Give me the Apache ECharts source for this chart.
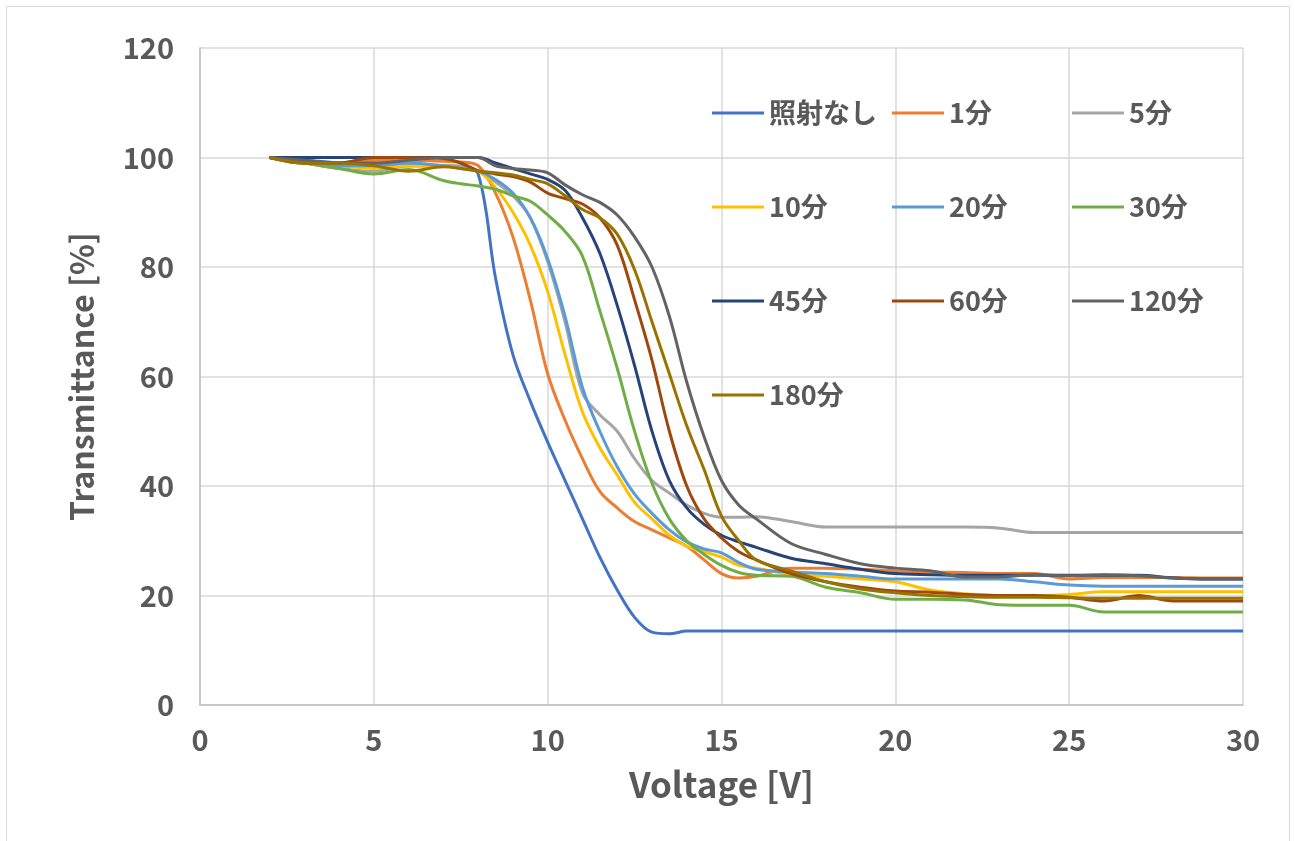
<!DOCTYPE html>
<html>
<head>
<meta charset="utf-8">
<script src="https://cdn.jsdelivr.net/npm/echarts@6/dist/echarts.min.js"></script>
<style>
  html, body { margin: 0; padding: 0; background: #fff; }
  #chart { width: 1295px; height: 841px; }
</style>
</head>
<body>
<div id="chart"></div>
<script>
// Applied voltage [V] shared by every measurement
const voltage = [2, 3, 4, 5, 6, 7, 7.5, 8, 8.5, 9, 9.5, 10, 10.5, 11, 11.5, 12, 12.5, 13, 13.5, 14, 14.5, 15, 15.5, 16,
  17, 18, 19, 20, 21, 22, 23, 24, 25, 26, 27, 28, 29, 30];

// Transmittance [%] per irradiation time
const t_none = [100, 99.5, 99, 98.5, 98.5, 98.5, 98.3, 97, 78, 64, 55.5, 48, 41, 34, 27, 21, 16, 13.3, 13, 13.5, 13.5, 13.5, 13.5, 13.5,
  13.5, 13.5, 13.5, 13.5, 13.5, 13.5, 13.5, 13.5, 13.5, 13.5, 13.5, 13.5, 13.5, 13.5];
const t_1 = [100, 99, 99, 99.5, 99.5, 99.3, 99.2, 98.5, 93.5, 85.5, 74, 60.5, 52, 45, 39, 36, 33.5, 32, 30.5, 29, 26.5, 24, 23.2, 23.5,
  25, 25, 24.8, 24.5, 24.3, 24.2, 24, 24, 23, 23.3, 23.3, 23.3, 23.2, 23.2];
const t_5 = [100, 99, 98, 97.5, 98.5, 98.5, 98.5, 97.5, 95.5, 93, 89, 81, 70, 57, 53, 50, 45, 41, 38.7, 36.5, 35, 34.3, 34.3, 34.4,
  33.5, 32.5, 32.5, 32.5, 32.5, 32.5, 32.3, 31.5, 31.5, 31.5, 31.5, 31.5, 31.5, 31.5];
const t_10 = [100, 99, 98.5, 98, 98.5, 98.5, 98, 97.5, 94.5, 90, 84, 75.5, 64, 53.5, 47, 42, 37, 34, 31, 29, 28, 27, 25.5, 25,
  23.8, 23.5, 23, 22.5, 21, 20.3, 20, 19.9, 20.2, 20.7, 20.7, 20.7, 20.7, 20.7];
const t_20 = [100, 99, 98.5, 98.5, 99, 98.5, 98, 97.5, 96, 93.5, 89, 81.5, 71, 58, 50, 43.5, 38.5, 35, 32, 29.8, 28.5, 27.8, 26, 24.8,
  24.3, 24, 23.5, 23, 23, 23, 23, 22.5, 21.9, 21.7, 21.7, 21.7, 21.7, 21.7];
const t_30 = [100, 99, 98, 97, 97.8, 95.8, 95.2, 94.8, 94.2, 93, 92, 89.5, 86.5, 82, 72, 61.5, 50, 40.5, 34, 30, 27.5, 25.5, 24.2, 23.7,
  23.5, 21.5, 20.5, 19.3, 19.3, 19.2, 18.3, 18.2, 18.2, 17, 17, 17, 17, 17];
const t_45 = [100, 100, 100, 100, 100, 100, 100, 100, 99, 98, 97, 96, 94, 89, 82.5, 73, 62, 50, 41, 36, 33, 31, 29.8, 28.8,
  26.8, 25.8, 24.8, 24, 23.8, 23.7, 23.7, 23.7, 23.7, 23.7, 23.7, 23.2, 23, 23];
const t_60 = [100, 99, 99, 100, 100, 99.8, 99, 97.6, 97, 96.5, 95.5, 93.5, 92.5, 91.5, 89, 84, 74, 63, 50, 40, 34, 30.5, 28, 26.5,
  24, 22.5, 21.5, 20.8, 20.6, 20.2, 20, 20, 19.7, 19, 20, 19, 19, 19];
const t_120 = [100, 99.5, 99, 99, 99.5, 100, 100, 100, 98.5, 98, 97.7, 97.2, 95, 93.2, 91.8, 89.5, 85.5, 80, 71, 59, 49, 41, 36.5, 34,
  29.5, 27.5, 25.8, 25, 24.5, 23.4, 23.4, 23.8, 23.6, 23.8, 23.6, 23.2, 23, 23];
const t_180 = [100, 99, 99, 98.5, 97.5, 98.3, 98, 97.5, 97.2, 96.8, 96, 95.2, 93, 90.5, 89, 86, 79.5, 70, 60.5, 51, 43, 34.5, 30, 26.5,
  24.5, 22.5, 21.2, 20.5, 20, 19.8, 19.7, 19.7, 19.6, 19.5, 19.5, 19.5, 19.5, 19.5];

const seriesNames = ['照射なし', '1分', '5分', '10分', '20分', '30分', '45分', '60分', '120分', '180分'];
const seriesValues = [t_none, t_1, t_5, t_10, t_20, t_30, t_45, t_60, t_120, t_180];
const seriesColors = ['#4472C4', '#ED7D31', '#A5A5A5', '#FFC000', '#5B9BD5', '#70AD47', '#264478', '#9E480E', '#636363', '#997300'];

// Legend columns (three columns, filled row by row)
const legendColumns = [
  ['照射なし', '10分', '45分', '180分'],
  ['1分', '20分', '60分'],
  ['5分', '30分', '120分']
];
const legendLeft = [712, 892, 1072];

const textColor = '#595959';
const jpFont = "'Noto Sans CJK JP', 'Noto Sans', sans-serif";

const chart = echarts.init(document.getElementById('chart'), null, { renderer: 'canvas' });

const series = seriesNames.map((name, i) => ({
  name: name,
  type: 'line',
  smooth: 0.35,
  symbol: 'none',
  data: voltage.map((v, k) => [v, seriesValues[i][k]]),
  lineStyle: { width: 3, color: seriesColors[i] },
  itemStyle: { color: seriesColors[i] },
  z: 2 + i
}));

// Plain line swatch for each legend entry
const lineIcon = 'path://M0,0 L52,0 L52,3 L0,3 Z';

const legends = legendColumns.map((col, c) => ({
  data: col,
  orient: 'vertical',
  left: legendLeft[c],
  top: 98,
  icon: lineIcon,
  itemWidth: 52,
  itemHeight: 3,
  itemGap: 64,
  padding: 0,
  selectedMode: false,
  textStyle: {
    color: textColor,
    fontFamily: jpFont,
    fontWeight: 'bold',
    fontSize: 27,
    lineHeight: 30
  }
}));

chart.setOption({
  backgroundColor: '#ffffff',
  animation: false,
  graphic: [{
    type: 'rect',
    shape: { x: 6.5, y: 6.5, width: 1283, height: 900 },
    style: { fill: 'none', stroke: '#d9d9d9', lineWidth: 1 },
    silent: true
  }],
  grid: { left: 200, right: 52, top: 48, bottom: 136, containLabel: false },
  legend: legends,
  xAxis: {
    type: 'value',
    min: 0,
    max: 30,
    interval: 5,
    name: 'Voltage [V]',
    nameLocation: 'middle',
    nameGap: 62,
    nameTextStyle: { color: textColor, fontFamily: jpFont, fontWeight: 'bold', fontSize: 35 },
    axisLine: { show: true, lineStyle: { color: '#bfbfbf', width: 1.5 } },
    axisTick: { show: false },
    axisLabel: { color: textColor, fontFamily: jpFont, fontWeight: 'bold', fontSize: 29, margin: 20 },
    splitLine: { show: true, lineStyle: { color: '#d9d9d9', width: 1.5 } }
  },
  yAxis: {
    type: 'value',
    min: 0,
    max: 120,
    interval: 20,
    name: 'Transmittance [%]',
    nameLocation: 'middle',
    nameGap: 102,
    nameTextStyle: { color: textColor, fontFamily: jpFont, fontWeight: 'bold', fontSize: 32 },
    axisLine: { show: true, lineStyle: { color: '#bfbfbf', width: 1.5 } },
    axisTick: { show: false },
    axisLabel: { color: textColor, fontFamily: jpFont, fontWeight: 'bold', fontSize: 29, margin: 26 },
    splitLine: { show: true, lineStyle: { color: '#d9d9d9', width: 1.5 } }
  },
  series: series
});
</script>
</body>
</html>
